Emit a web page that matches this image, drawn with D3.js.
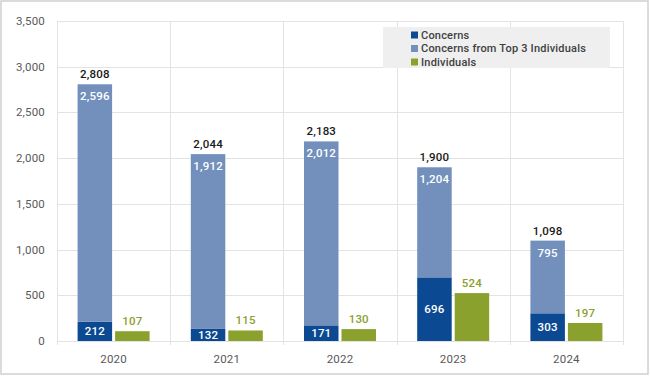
<!DOCTYPE html>
<html>
<head>
<meta charset="utf-8">
<script src="https://cdn.jsdelivr.net/npm/d3@7"></script>
<style>
  body { margin: 0; background: #fff; }
  svg { display: block; font-family: Roboto, "Noto Sans", sans-serif; letter-spacing: 0.2px; }
</style>
</head>
<body>
<svg id="chart" width="650" height="376"></svg>
<script>
const years = ['2020', '2021', '2022', '2023', '2024']
const concerns = [212, 132, 171, 696, 303]
const top3 = [2596, 1912, 2012, 1204, 795]
const individuals = [107, 115, 130, 524, 197]
const yTicks = [0, 500, 1000, 1500, 2000, 2500, 3000, 3500]
const legendLabels = ['Concerns', 'Concerns from Top 3 Individuals', 'Individuals']

const colors = {dark: '#0b4a92', light: '#7290bb', green: '#8aa12e'}
const fmt = d3.format(',')

const svg = d3.select('#chart')
const margin = {left: 57, right: 27, top: 21, bottom: 35}
const width = 650 - margin.left - margin.right
const height = 376 - margin.top - margin.bottom

// outer frame
svg.append('rect')
  .attr('x', 1).attr('y', 1).attr('width', 647).attr('height', 373)
  .attr('fill', 'none').attr('stroke', '#d0d0d0').attr('stroke-width', 1.5)

const g = svg.append('g').attr('transform', `translate(${margin.left},${margin.top})`)

const x = d3.scaleBand().domain(years).range([0, width])
const y = d3.scaleLinear().domain([0, 3500]).range([height, 0])

// horizontal gridlines
g.selectAll('.hgrid').data(yTicks).join('line')
  .attr('x1', 0).attr('x2', width)
  .attr('y1', d => Math.round(y(d)) + 0.5).attr('y2', d => Math.round(y(d)) + 0.5)
  .attr('stroke', '#e3e3e3')

// vertical category dividers, running a bit below the baseline
const edges = [0, ...years.map(d => x(d) + x.bandwidth())]
g.selectAll('.vgrid').data(edges).join('line')
  .attr('x1', d => Math.round(d) + 0.5).attr('x2', d => Math.round(d) + 0.5)
  .attr('y1', 0).attr('y2', height + 4)
  .attr('stroke', '#e3e3e3')

// y labels
g.selectAll('.ylab').data(yTicks).join('text')
  .attr('x', -12).attr('y', d => y(d)).attr('dy', '0.35em')
  .attr('text-anchor', 'end').attr('font-size', 11.5).attr('fill', '#595959')
  .text(fmt)

// x labels
g.selectAll('.xlab').data(years).join('text')
  .attr('x', d => x(d) + x.bandwidth() / 2).attr('y', height + 22)
  .attr('text-anchor', 'middle').attr('font-size', 11.5).attr('fill', '#595959')
  .text(d => d)

const barW = 34.5
const gap = 3
const stackX = d => x(d) + x.bandwidth() / 2 - gap / 2 - barW
const greenX = d => x(d) + x.bandwidth() / 2 + gap / 2

const rows = years.map((year, i) => ({
  year, concerns: concerns[i], top3: top3[i], ind: individuals[i], total: concerns[i] + top3[i]
}))

// stacked bars
g.selectAll('.bar-dark').data(rows).join('rect')
  .attr('x', d => stackX(d.year)).attr('width', barW)
  .attr('y', d => y(d.concerns)).attr('height', d => y(0) - y(d.concerns))
  .attr('fill', colors.dark)
g.selectAll('.bar-light').data(rows).join('rect')
  .attr('x', d => stackX(d.year)).attr('width', barW)
  .attr('y', d => y(d.total)).attr('height', d => y(d.concerns) - y(d.total))
  .attr('fill', colors.light)
g.selectAll('.bar-green').data(rows).join('rect')
  .attr('x', d => greenX(d.year)).attr('width', barW)
  .attr('y', d => y(d.ind)).attr('height', d => y(0) - y(d.ind))
  .attr('fill', colors.green)

// labels
const label = (cls, data, xf, yf, fill, txt) => g.selectAll(cls).data(data).join('text')
  .attr('x', xf).attr('y', yf).attr('text-anchor', 'middle')
  .attr('font-size', 11.5).attr('font-weight', 500).attr('fill', fill)
  .text(txt)

label('.lab-dark', rows, d => stackX(d.year) + barW / 2,
  d => (y(0) + y(d.concerns)) / 2 + 4, '#fff', d => fmt(d.concerns))
label('.lab-light', rows, d => stackX(d.year) + barW / 2,
  d => y(d.total) + 16, '#fff', d => fmt(d.top3))
label('.lab-total', rows, d => stackX(d.year) + barW / 2,
  d => y(d.total) - 6, '#1a1a1a', d => fmt(d.total))
label('.lab-green', rows, d => greenX(d.year) + barW / 2,
  d => y(d.ind) - 6, colors.green, d => fmt(d.ind))

// legend
const legend = svg.append('g').attr('transform', 'translate(383,27)')
legend.append('rect').attr('width', 227).attr('height', 41).attr('fill', '#efefef')
const items = legend.selectAll('.item').data(legendLabels).join('g')
  .attr('transform', (d, i) => `translate(28,${8 + i * 13.5})`)
items.append('rect').attr('x', 0).attr('y', -3.5).attr('width', 7).attr('height', 7)
  .attr('fill', (d, i) => [colors.dark, colors.light, colors.green][i])
items.append('text').attr('x', 10).attr('dy', '0.35em')
  .attr('font-size', 11).attr('font-weight', 500).attr('fill', '#404040')
  .text(d => d)
</script>
</body>
</html>
